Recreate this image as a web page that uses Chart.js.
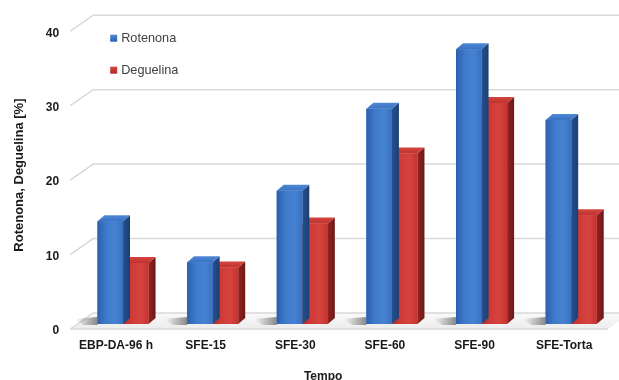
<!DOCTYPE html>
<html>
<head>
<meta charset="utf-8">
<script src="https://cdn.jsdelivr.net/npm/chart.js@4.4.1/dist/chart.umd.min.js"></script>
<style>
  html, body { margin: 0; padding: 0; background: #ffffff; }
  #wrap { width: 619px; height: 380px; }
</style>
</head>
<body>
<div id="wrap"><canvas id="c" width="619" height="380"></canvas></div>
<script>
// Extraction samples and their content (%)
const categories = ['EBP-DA-96 h', 'SFE-15', 'SFE-30', 'SFE-60', 'SFE-90', 'SFE-Torta'];
const rotenona   = [13.8, 8.3, 17.9, 28.9, 36.9, 27.4];
const deguelina  = [8.2, 7.6, 13.5, 22.9, 29.7, 14.6];
const yTicks     = [0, 10, 20, 30, 40];
const xTitle     = 'Tempo';
const yTitle     = 'Rotenona, Deguelina [%]';

// Pseudo-3D geometry (pixels)
const DEPTH_X = 7, DEPTH_Y = -6;     // bar extrusion
const FRONT_X = -8, FRONT_Y = 5;     // front edge of the floor / tick plane
const WALL_X = 15, WALL_Y = -11;     // back wall

const palettes = [
  { base: '#3a74c4', front: ['#2c60ad', '#3f7acb', '#4682d2', '#3a70c0'],
    side: ['#25518f', '#1c3f72'], top: ['#3a72c2', '#4f88d6'] },
  { base: '#cc3834', front: ['#b52a27', '#d03b37', '#d6433e', '#c4342f'],
    side: ['#902421', '#6d1816'], top: ['#c0322e', '#d4463f'] }
];

const FONT = '"Liberation Sans", Arial, sans-serif';
Chart.defaults.font.family = FONT;

const scene3d = {
  id: 'scene3d',
  beforeDatasetsDraw(chart) {
    const { ctx, chartArea: a, scales: { y } } = chart;
    const y0 = y.getPixelForValue(0);
    ctx.save();
    // floor
    const fg = ctx.createLinearGradient(0, y0 + WALL_Y, 0, y0 + FRONT_Y);
    fg.addColorStop(0, '#fafafa');
    fg.addColorStop(1, '#ececec');
    ctx.fillStyle = fg;
    ctx.beginPath();
    ctx.moveTo(a.left + FRONT_X, y0 + FRONT_Y);
    ctx.lineTo(a.right + FRONT_X, y0 + FRONT_Y);
    ctx.lineTo(a.right + WALL_X, y0 + WALL_Y);
    ctx.lineTo(a.left + WALL_X, y0 + WALL_Y);
    ctx.closePath();
    ctx.fill();
    // grid lines: diagonal from the tick plane, then along the back wall
    ctx.strokeStyle = '#d9d9d9';
    ctx.lineWidth = 1.5;
    yTicks.forEach(v => {
      const py = y.getPixelForValue(v);
      ctx.beginPath();
      ctx.moveTo(a.left + FRONT_X, py + FRONT_Y);
      ctx.lineTo(a.left + WALL_X, py + WALL_Y);
      ctx.lineTo(chart.width, py + WALL_Y);
      ctx.stroke();
    });
    ctx.beginPath();
    ctx.moveTo(a.left + FRONT_X, y0 + FRONT_Y);
    ctx.lineTo(a.right + FRONT_X, y0 + FRONT_Y);
    ctx.stroke();
    // soft shadows cast on the floor left of each bar pair
    const meta = chart.getDatasetMeta(0);
    meta.data.forEach(bar => {
      const l = bar.x - bar.width / 2;
      const b = bar.base;
      const sg = ctx.createLinearGradient(l - 22, 0, l, 0);
      sg.addColorStop(0, 'rgba(60,60,60,0)');
      sg.addColorStop(1, 'rgba(50,50,50,0.55)');
      ctx.fillStyle = sg;
      ctx.beginPath();
      ctx.moveTo(l, b - 7);
      ctx.lineTo(l - 24, b - 5);
      ctx.lineTo(l - 14, b + 1);
      ctx.lineTo(l, b + 1);
      ctx.closePath();
      ctx.fill();
    });
    ctx.restore();
  },
  afterDatasetDraw(chart, args) {
    const { ctx } = chart;
    const pal = palettes[args.index];
    ctx.save();
    args.meta.data.forEach(bar => {
      const t = bar.y, b = bar.base;
      const l = bar.x - bar.width / 2, r = bar.x + bar.width / 2;
      // side face
      const sg = ctx.createLinearGradient(r, 0, r + DEPTH_X, 0);
      sg.addColorStop(0, pal.side[0]);
      sg.addColorStop(1, pal.side[1]);
      ctx.fillStyle = sg;
      ctx.beginPath();
      ctx.moveTo(r, t);
      ctx.lineTo(r + DEPTH_X, t + DEPTH_Y);
      ctx.lineTo(r + DEPTH_X, b + DEPTH_Y);
      ctx.lineTo(r, b);
      ctx.closePath();
      ctx.fill();
      // top face
      const tg = ctx.createLinearGradient(0, t + DEPTH_Y, 0, t);
      tg.addColorStop(0, pal.top[1]);
      tg.addColorStop(1, pal.top[0]);
      ctx.fillStyle = tg;
      ctx.beginPath();
      ctx.moveTo(l, t);
      ctx.lineTo(l + DEPTH_X, t + DEPTH_Y);
      ctx.lineTo(r + DEPTH_X, t + DEPTH_Y);
      ctx.lineTo(r, t);
      ctx.closePath();
      ctx.fill();
      // front face with a soft horizontal sheen
      const fg = ctx.createLinearGradient(l, 0, r, 0);
      fg.addColorStop(0, pal.front[0]);
      fg.addColorStop(0.35, pal.front[1]);
      fg.addColorStop(0.7, pal.front[2]);
      fg.addColorStop(1, pal.front[3]);
      ctx.fillStyle = fg;
      ctx.fillRect(l, t, r - l, b - t);
    });
    ctx.restore();
  },
  afterDraw(chart) {
    const { ctx, chartArea: a } = chart;
    ctx.save();
    // legend inside the plot
    ctx.textBaseline = 'middle';
    ctx.textAlign = 'left';
    ctx.font = '12.7px ' + FONT;
    chart.data.datasets.forEach((ds, i) => {
      const ly = a.top + 12 + i * 32;
      const lx = a.left + 32;
      const pal = palettes[i];
      const g = ctx.createLinearGradient(0, ly - 3.5, 0, ly + 3.5);
      g.addColorStop(0, pal.top[1]);
      g.addColorStop(1, pal.front[0]);
      ctx.fillStyle = g;
      ctx.fillRect(lx, ly - 3.5, 7, 7);
      ctx.fillStyle = '#404040';
      ctx.fillText(ds.label, lx + 11, ly);
    });
    // category axis title, set on the front plane
    ctx.font = 'bold 12px ' + FONT;
    ctx.textAlign = 'center';
    ctx.textBaseline = 'alphabetic';
    ctx.fillStyle = '#1a1a1a';
    ctx.fillText(xTitle, (a.left + a.right) / 2 - 24, chart.height - 0.5);
    ctx.restore();
  }
};

new Chart(document.getElementById('c'), {
  type: 'bar',
  data: {
    labels: categories,
    datasets: [
      { label: 'Rotenona', data: rotenona, backgroundColor: palettes[0].base, borderWidth: 0 },
      { label: 'Deguelina', data: deguelina, backgroundColor: palettes[1].base, borderWidth: 0 }
    ]
  },
  options: {
    responsive: false,
    animation: false,
    events: [],
    layout: { padding: { left: 8, right: 3, top: 25, bottom: 0 } },
    datasets: { bar: { categoryPercentage: 0.57, barPercentage: 1.0 } },
    plugins: { legend: { display: false }, tooltip: { enabled: false } },
    scales: {
      x: {
        grid: { display: false, drawTicks: false },
        border: { display: false },
        ticks: {
          padding: 14,
          labelOffset: -7,
          color: '#1a1a1a',
          font: { size: 12, weight: 'bold' },
          maxRotation: 0
        },
        title: { display: false },
        afterFit(scale) { scale.height = 56; }
      },
      y: {
        min: 0,
        max: 40,
        grid: { display: false, drawTicks: false },
        border: { display: false },
        ticks: {
          stepSize: 10,
          padding: 19,
          labelOffset: 7,
          color: '#1a1a1a',
          font: { size: 12, weight: 'bold' }
        },
        title: {
          display: true,
          text: yTitle,
          color: '#1a1a1a',
          font: { size: 13, weight: 'bold' },
          padding: { top: 4, bottom: 4 }
        },
        afterFit(scale) { scale.width = 70.2; }
      }
    }
  },
  plugins: [scene3d]
});
</script>
</body>
</html>
